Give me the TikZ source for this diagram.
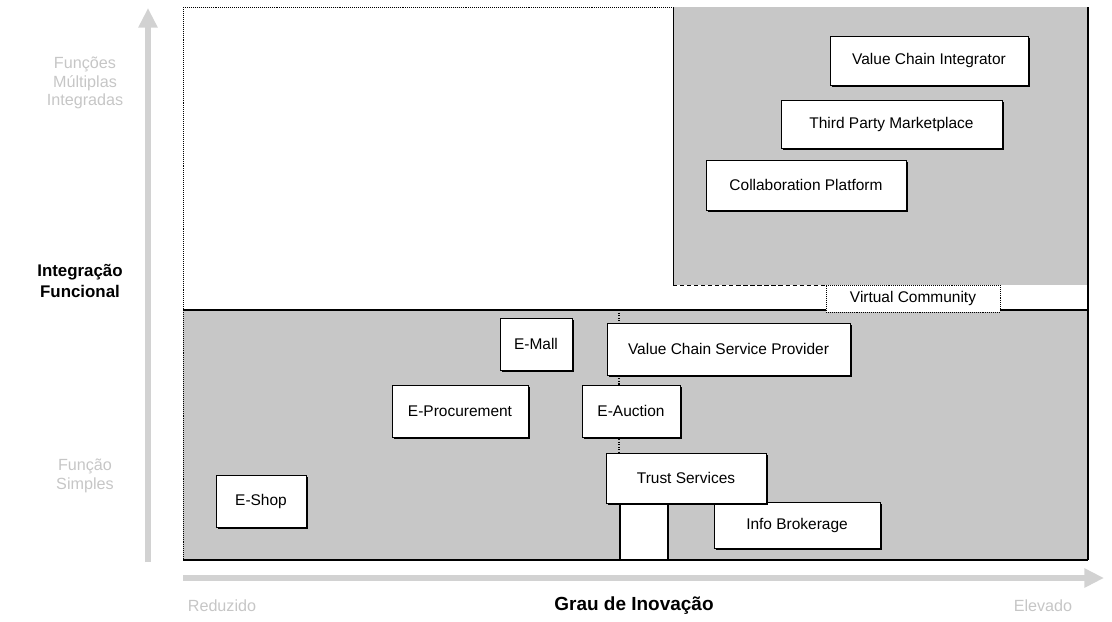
\documentclass[tikz,border=0pt]{standalone}
\usepackage{fontspec}
\setmainfont{Liberation Sans}
\usetikzlibrary{arrows.meta,shadows}
\tikzset{
  modelo/.style={draw=black, fill=white, line width=0.6pt, inner sep=0pt,
    font=\fontsize{11}{13}\selectfont,
    drop shadow={fill=black, opacity=1, shadow xshift=1.3pt, shadow yshift=-1.3pt}},
  eixo/.style={gray!35, line width=4pt, -{Triangle[length=14pt,width=13pt]}},
  fraco/.style={gray!45, font=\fontsize{11.5}{13}\selectfont, align=center},
  titulo/.style={font=\bfseries\fontsize{12}{15}\selectfont, align=center}
}
\begin{document}
\begin{tikzpicture}[x=0.025cm, y=-0.025cm]
    \useasboundingbox (0,0) rectangle (1112,621);
    % --- zone grigie ---
    \fill[black!22] (673,7) rectangle (1088,285);
    \fill[black!22] (183,310) rectangle (1088,560);
    \fill[white] (826,285) rectangle (1088,310);
    % --- contorni ---
    \draw[densely dotted] (183,7) -- (673,7)  (183,7) -- (183,560);
    \draw[thin] (673,7) -- (673,285);
    \draw[densely dashed] (673,285) -- (826,285);
    \draw[thick] (1088,7) -- (1088,560) (183,560) -- (1088,560);
    \draw[thick] (183,310) -- (1088,310);
    \draw[densely dotted, thick] (619,310) -- (619,503);
    \draw[thick, fill=white] (620,503) rectangle (668,560);
    % --- modelli ---
    \node[modelo, minimum width=4.95cm, minimum height=1.225cm] (vci) at (929,60.5) {Value Chain Integrator};
    \node[modelo, minimum width=5.525cm, minimum height=1.2cm] (tpm) at (891.5,124) {Third Party Marketplace};
    \node[modelo, minimum width=5.0cm, minimum height=1.25cm] (cp) at (806,185) {Collaboration Platform};
    \node[draw=black, densely dotted, fill=white, inner sep=0pt, font=\fontsize{11}{13}\selectfont,
          minimum width=4.35cm, minimum height=0.675cm] (vc) at (913,298.5) {Virtual Community};
    \node[modelo, minimum width=1.8cm, minimum height=1.3cm] (emall) at (536,344) {E-Mall};
    \node[modelo, minimum width=6.075cm, minimum height=1.3cm] (vcsp) at (728.5,349) {Value Chain Service Provider};
    \node[modelo, minimum width=3.4cm, minimum height=1.3cm] (eproc) at (460,411) {E-Procurement};
    \node[modelo, minimum width=2.45cm, minimum height=1.3cm] (eauc) at (631,411) {E-Auction};
    \node[modelo, minimum width=2.25cm, minimum height=1.3cm] (eshop) at (261,501) {E-Shop};
    \node[modelo, minimum width=4.15cm, minimum height=1.15cm] (info) at (797,525) {Info Brokerage};
    \node[modelo, minimum width=4.0cm, minimum height=1.25cm] (trust) at (686,478) {Trust Services};
    % --- assi ---
    \coordinate (o) at (148,562);
    \coordinate (ytop) at (148,8);
    \coordinate (xo) at (183,578);
    \coordinate (xend) at (1104,578);
    \draw[eixo] (o) -- (ytop);
    \draw[eixo] (xo) -- (xend);
    \node[titulo] (ylab) at (80,281) {Integração\\Funcional};
    \node[titulo, font=\bfseries\fontsize{13.5}{16}\selectfont] (xlab) at (634,606) {Grau de Inovação};
    \node[fraco] (yalto) at (85,83) {Funções\\Múltiplas\\Integradas};
    \node[fraco] (ybasso) at (85,476) {Função\\Simples};
    \node[fraco] (xbasso) at (222,606) {Reduzido};
    \node[fraco] (xalto) at (1043,606) {Elevado};
\end{tikzpicture}
\end{document}
